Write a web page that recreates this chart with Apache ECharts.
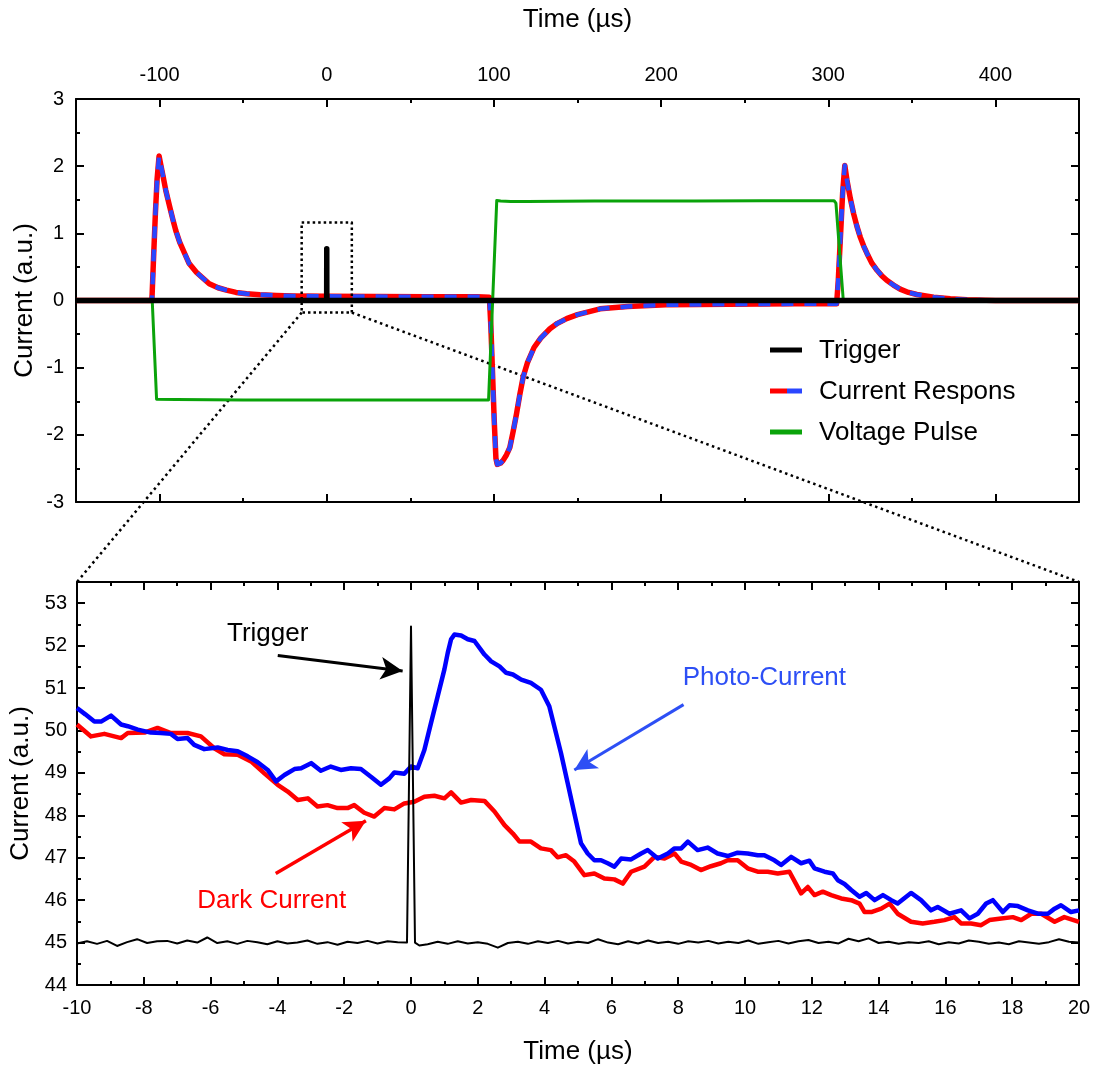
<!DOCTYPE html>
<html>
<head>
<meta charset="utf-8">
<script src="https://cdn.jsdelivr.net/npm/echarts@6/dist/echarts.min.js"></script>
<style>
  html, body { margin: 0; padding: 0; background: #fff; }
  #chart { width: 1094px; height: 1066px; }
</style>
</head>
<body>
<div id="chart"></div>
<script>
// ---------- overview panel: time in µs, current in a.u. ----------
const triggerPulse = [[-150, 0], [-0.05, 0], [0, 0.77], [0.05, 0], [450, 0]];

const currentResponse = [
  [-150, 0], [-104.6, 0], [-103.5, 0.7], [-102.5, 1.3], [-101.5, 1.8], [-100.3, 2.15],
  [-99.3, 2.02], [-98, 1.86], [-96.3, 1.64], [-94, 1.4], [-92, 1.2], [-90.3, 1.04],
  [-88, 0.87], [-85, 0.7], [-82.3, 0.55], [-78, 0.42], [-74, 0.33], [-70.3, 0.25],
  [-65, 0.19], [-60, 0.155], [-54.3, 0.12], [-48, 0.1], [-40, 0.085], [-30, 0.075],
  [-20, 0.068], [0, 0.062], [30, 0.058], [60, 0.055], [90, 0.055], [97.3, 0.05],
  [98.2, -0.4], [99.2, -1.1], [100.2, -1.8], [101.2, -2.35], [102, -2.44], [104, -2.42],
  [105.5, -2.38], [107.5, -2.3], [109.5, -2.19], [111.5, -1.95], [113.5, -1.69],
  [115.5, -1.4], [117.5, -1.14], [120, -0.93], [124, -0.7], [128, -0.56], [133.5, -0.42],
  [138, -0.34], [143.5, -0.27], [150, -0.21], [163.5, -0.124], [180, -0.09], [203, -0.065],
  [240, -0.055], [280, -0.05], [305, -0.05], [306, 0.3], [307.3, 0.95], [308.6, 1.6],
  [309.9, 2.01], [311.2, 1.79], [313.2, 1.52], [315.2, 1.29], [317.2, 1.1], [319.2, 0.94],
  [321.2, 0.81], [323.2, 0.7], [326, 0.56], [329.2, 0.45], [332, 0.37], [335, 0.3],
  [339, 0.23], [343, 0.17], [348, 0.12], [353, 0.09], [363, 0.05], [373, 0.025],
  [383, 0.01], [400, 0], [450, 0]
];

const voltagePulse = [
  [-150, 0], [-104.4, 0], [-101.8, -1.47], [-90, -1.475], [-50, -1.48], [0, -1.48],
  [50, -1.48], [96.8, -1.48], [101.7, 1.49], [104, 1.48], [110, 1.475], [120, 1.475],
  [160, 1.48], [220, 1.48], [260, 1.485], [303.5, 1.485], [304.6, 1.45], [309, 0], [450, 0]
];

// dotted window around the trigger that the lower panel enlarges
const windowBox = [[-15, 1.16], [15, 1.16], [15, -0.18], [-15, -0.18], [-15, 1.16]];

// ---------- detail panel: -10 … 20 µs ----------
const photoCurrent = [
  [-10, 50.53], [-9.75, 50.38], [-9.48, 50.21], [-9.28, 50.21], [-8.98, 50.35], [-8.68, 50.14],
  [-8.48, 50.1], [-8.18, 50.02], [-7.79, 49.95], [-7.49, 49.94], [-7.19, 49.92], [-6.99, 49.8],
  [-6.69, 49.82], [-6.49, 49.66], [-6.19, 49.56], [-5.79, 49.6], [-5.49, 49.54], [-5.19, 49.51],
  [-4.89, 49.39], [-4.59, 49.25], [-4.29, 49.07], [-4.04, 48.8], [-3.79, 48.95], [-3.49, 49.09],
  [-3.29, 49.11], [-2.99, 49.23], [-2.7, 49.05], [-2.4, 49.15], [-2.1, 49.07], [-1.8, 49.11],
  [-1.5, 49.09], [-1.2, 48.91], [-0.9, 48.72], [-0.65, 48.87], [-0.5, 49.01], [-0.2, 48.98],
  [0, 49.15], [0.2, 49.11], [0.4, 49.54], [0.6, 50.18], [0.8, 50.81], [1, 51.44], [1.1, 51.83],
  [1.2, 52.15], [1.3, 52.26], [1.5, 52.24], [1.7, 52.15], [1.9, 52.11], [2.2, 51.79],
  [2.4, 51.63], [2.65, 51.51], [2.85, 51.36], [3.05, 51.32], [3.3, 51.2], [3.59, 51.12],
  [3.89, 50.96], [4.14, 50.57], [4.29, 50.1], [4.49, 49.47], [4.69, 48.76], [4.89, 48.05],
  [5.09, 47.34], [5.29, 47.1], [5.49, 46.94], [5.69, 46.94], [5.89, 46.87], [6.09, 46.79],
  [6.29, 46.98], [6.59, 46.96], [6.89, 47.1], [7.09, 47.18], [7.39, 46.98], [7.69, 47.1],
  [7.89, 47.22], [8.09, 47.22], [8.29, 47.38], [8.58, 47.18], [8.88, 47.24], [9.18, 47.1],
  [9.48, 47.04], [9.78, 47.12], [10.08, 47.1], [10.38, 47.06], [10.58, 47.06], [10.88, 46.94],
  [11.08, 46.83], [11.38, 47.02], [11.68, 46.87], [11.93, 46.93], [12.08, 46.75], [12.38, 46.67],
  [12.63, 46.63], [12.78, 46.47], [12.98, 46.38], [13.18, 46.24], [13.43, 46.08], [13.63, 46.17],
  [13.88, 46], [14.13, 46.12], [14.38, 46], [14.57, 45.92], [14.97, 46.17], [15.27, 46],
  [15.57, 45.76], [15.77, 45.84], [16.12, 45.68], [16.47, 45.76], [16.72, 45.57], [16.97, 45.68],
  [17.22, 45.92], [17.42, 46], [17.72, 45.72], [17.92, 45.88], [18.17, 45.86], [18.47, 45.76],
  [18.77, 45.68], [19.07, 45.68], [19.27, 45.8], [19.46, 45.88], [19.76, 45.72], [20, 45.76]
];

const darkCurrent = [
  [-10, 50.14], [-9.58, 49.86], [-9.18, 49.92], [-8.68, 49.82], [-8.48, 49.94], [-7.98, 49.95],
  [-7.59, 50.06], [-7.19, 49.94], [-6.69, 49.94], [-6.29, 49.86], [-5.89, 49.58], [-5.59, 49.44],
  [-5.19, 49.43], [-4.79, 49.27], [-4.39, 48.99], [-3.99, 48.72], [-3.69, 48.56], [-3.39, 48.36],
  [-3.09, 48.4], [-2.8, 48.21], [-2.5, 48.24], [-2.2, 48.17], [-1.9, 48.17], [-1.7, 48.24],
  [-1.4, 48.06], [-1.1, 47.97], [-0.8, 48.17], [-0.5, 48.14], [-0.2, 48.28], [0.1, 48.32],
  [0.4, 48.44], [0.7, 48.46], [1, 48.4], [1.2, 48.54], [1.5, 48.3], [1.8, 48.36], [2.2, 48.34],
  [2.5, 48.09], [2.8, 47.77], [3.05, 47.57], [3.25, 47.38], [3.59, 47.38], [3.89, 47.22],
  [4.19, 47.18], [4.39, 47.01], [4.64, 47.06], [4.89, 46.91], [5.19, 46.59], [5.49, 46.63],
  [5.79, 46.51], [6.09, 46.49], [6.34, 46.39], [6.59, 46.67], [6.99, 46.79], [7.29, 47.02],
  [7.59, 46.98], [7.89, 47.1], [8.09, 46.91], [8.39, 46.83], [8.68, 46.71], [8.98, 46.8],
  [9.28, 46.87], [9.48, 46.94], [9.78, 46.94], [10.08, 46.75], [10.38, 46.67], [10.68, 46.67],
  [10.98, 46.63], [11.33, 46.67], [11.68, 46.16], [11.88, 46.31], [12.08, 46.12], [12.33, 46.2],
  [12.58, 46.12], [12.88, 46.04], [13.18, 46], [13.43, 45.92], [13.58, 45.72], [13.78, 45.72],
  [14.08, 45.8], [14.33, 45.92], [14.57, 45.68], [14.97, 45.49], [15.32, 45.45], [15.67, 45.49],
  [15.97, 45.53], [16.27, 45.6], [16.47, 45.45], [16.77, 45.45], [17.07, 45.41], [17.32, 45.53],
  [17.67, 45.57], [18.02, 45.6], [18.27, 45.53], [18.57, 45.68], [18.87, 45.68], [19.27, 45.49],
  [19.56, 45.6], [20, 45.49]
];

const triggerDetail = [
  [-10, 44.98], [-9.7, 45.03], [-9.4, 44.97], [-9.1, 45.04], [-8.8, 44.92], [-8.5, 45.01],
  [-8.2, 45.08], [-7.9, 44.99], [-7.6, 45.03], [-7.3, 45.04], [-7.0, 44.98], [-6.7, 45.05],
  [-6.4, 45.0], [-6.1, 45.12], [-5.8, 44.99], [-5.5, 45.03], [-5.2, 44.97], [-4.9, 45.04],
  [-4.6, 45.01], [-4.3, 44.96], [-4.0, 45.03], [-3.7, 44.98], [-3.4, 45.0], [-3.1, 45.05],
  [-2.8, 44.97], [-2.5, 45.01], [-2.2, 44.95], [-1.9, 45.02], [-1.6, 44.99], [-1.3, 45.04],
  [-1.0, 44.98], [-0.7, 45.03], [-0.4, 45.01], [-0.12, 45.0], [0, 52.45], [0.12, 45.0],
  [0.25, 44.93], [0.5, 44.96], [0.8, 45.02], [1.1, 44.97], [1.4, 45.03], [1.7, 44.98],
  [2.0, 45.01], [2.3, 44.97], [2.6, 44.88], [2.9, 44.99], [3.2, 45.02], [3.5, 44.97],
  [3.8, 45.03], [4.1, 44.99], [4.4, 45.04], [4.7, 44.98], [5.0, 45.02], [5.3, 44.99],
  [5.6, 45.08], [5.9, 45.0], [6.2, 44.96], [6.5, 45.03], [6.8, 44.98], [7.1, 45.05],
  [7.4, 44.99], [7.7, 45.02], [8.0, 44.97], [8.3, 45.03], [8.6, 45.0], [8.9, 45.04],
  [9.2, 44.98], [9.5, 45.02], [9.8, 44.99], [10.1, 45.05], [10.4, 44.97], [10.7, 45.01],
  [11.0, 45.04], [11.3, 44.98], [11.6, 45.03], [11.9, 45.06], [12.2, 44.99], [12.5, 45.02],
  [12.8, 44.98], [13.1, 45.09], [13.4, 45.03], [13.7, 45.1], [14.0, 44.99], [14.3, 45.02],
  [14.6, 44.97], [14.9, 45.01], [15.2, 44.99], [15.5, 45.03], [15.8, 44.96], [16.1, 45.01],
  [16.4, 44.98], [16.7, 45.05], [17.0, 45.02], [17.3, 44.97], [17.6, 45.0], [17.9, 44.96],
  [18.2, 45.03], [18.5, 45.0], [18.8, 44.97], [19.1, 45.01], [19.4, 45.08], [19.7, 45.02],
  [20.0, 45.0]
];

// legend entries of the overview panel
const legendNames = ['Trigger', 'Current Respons', 'Voltage Pulse'];

// ---------- styling ----------
const FONT = '"Liberation Sans", Arial, Helvetica, sans-serif';
const BLACK = '#000000';
const RED = '#ff0000';
const BLUE = '#0000ff';
const DASH_BLUE = '#2a46ff';
const GREEN = '#0aa30a';
const NOTE_BLUE = '#2d4ff5';
const AX = { color: BLACK, width: 2 };

function axis(base, labelled) {
  const a = Object.assign({
    type: 'value',
    axisLine: { show: true, onZero: false, lineStyle: AX },
    axisTick: { show: true, inside: true, length: 8, lineStyle: AX },
    minorTick: { show: true, splitNumber: 2, length: 4, lineStyle: AX },
    splitLine: { show: false },
    minorSplitLine: { show: false },
    axisLabel: { show: labelled, color: BLACK, fontSize: 20, fontFamily: FONT },
    nameTextStyle: { color: BLACK, fontSize: 26, fontFamily: FONT },
    nameLocation: 'middle',
    nameMoveOverlap: false
  }, base);
  if (base.labelExtra) Object.assign(a.axisLabel, base.labelExtra);
  delete a.labelExtra;
  return a;
}

const hundreds = v => (Math.abs(v % 100) < 1e-9 ? String(v) : '');
const integers = v => (Math.abs(v - Math.round(v)) < 1e-9 ? String(v) : '');

const line = (name, data, xi, yi, style, extra) => Object.assign({
  name, type: 'line', data, xAxisIndex: xi, yAxisIndex: yi,
  showSymbol: false, symbol: 'none', animation: false, silent: true,
  lineStyle: Object.assign({ join: 'round' }, style)
}, extra || {});

const arrow = (color, width, from, to) => ({
  silent: true, animation: false, symbol: ['none', 'arrow'], symbolSize: [17, 22],
  label: { show: false }, emphasis: { disabled: true },
  lineStyle: { color, width, type: 'solid' },
  data: [[{ coord: from }, { coord: to }]]
});

const option = {
  backgroundColor: '#ffffff',
  animation: false,
  textStyle: { fontFamily: FONT },
  grid: [
    { left: 76, top: 99, width: 1003, height: 403 },
    { left: 76, top: 582, width: 1003, height: 403 }
  ],
  xAxis: [
    axis({ gridIndex: 0, position: 'top', min: -150, max: 450, splitNumber: 6,
      name: 'Time (µs)', nameGap: 66,
      labelExtra: { margin: 14, formatter: hundreds } }, true),
    axis({ gridIndex: 0, position: 'bottom', min: -150, max: 450, splitNumber: 6 }, false),
    axis({ gridIndex: 1, position: 'bottom', min: -10, max: 20, interval: 2,
      name: 'Time (µs)', nameGap: 54,
      labelExtra: { margin: 13 } }, true),
    axis({ gridIndex: 1, position: 'top', min: -10, max: 20, interval: 2 }, false)
  ],
  yAxis: [
    axis({ gridIndex: 0, position: 'left', min: -3, max: 3, interval: 1,
      name: 'Current (a.u.)', nameGap: 38,
      labelExtra: { margin: 12 } }, true),
    axis({ gridIndex: 0, position: 'right', min: -3, max: 3, interval: 1 }, false),
    axis({ gridIndex: 1, position: 'left', min: 44, max: 53.5, interval: 1,
      name: 'Current (a.u.)', nameGap: 43,
      labelExtra: { margin: 10, formatter: integers, showMaxLabel: false } }, true),
    axis({ gridIndex: 1, position: 'right', min: 44, max: 53.5, interval: 1 }, false)
  ],
  series: [
    // overview
    line(legendNames[1], currentResponse, 0, 0, { color: RED, width: 5.5 }),
    line(legendNames[1], currentResponse, 0, 0, { color: DASH_BLUE, width: 4.5, type: [12, 11] }),
    line(legendNames[2], voltagePulse, 0, 0, { color: GREEN, width: 3 }),
    line(legendNames[0], triggerPulse, 0, 0, { color: BLACK, width: 5.5 }),
    line('window', windowBox, 0, 0, { color: BLACK, width: 2.5, type: [2.5, 3] }),
    // detail
    line('Dark Current', darkCurrent, 2, 2, { color: RED, width: 4.5 },
      { markLine: arrow(RED, 3.5, [-4.05, 46.63], [-1.35, 47.87]) }),
    line('Photo-Current', photoCurrent, 2, 2, { color: BLUE, width: 4.5 },
      { markLine: arrow(NOTE_BLUE, 3, [8.16, 50.61], [4.89, 49.07]) }),
    line('Trigger', triggerDetail, 2, 2, { color: BLACK, width: 2 },
      { markLine: arrow(BLACK, 3, [-3.99, 51.77], [-0.25, 51.40]) })
  ]
};

const chart = echarts.init(document.getElementById('chart'), null, { renderer: 'canvas' });
chart.setOption(option);

// overlays: connector lines, legend, annotations
const toOverview = pt => chart.convertToPixel({ xAxisIndex: 0, yAxisIndex: 0 }, pt);
const toDetail = pt => chart.convertToPixel({ xAxisIndex: 2, yAxisIndex: 2 }, pt);

const boxBL = toOverview(windowBox[3]);
const boxBR = toOverview(windowBox[2]);
const detTL = toDetail([-10, 53.5]);
const detTR = toDetail([20, 53.5]);
const dotted = { stroke: BLACK, lineWidth: 2.5, lineDash: [2.5, 3.5] };

const graphics = [
  { type: 'line', silent: true, shape: { x1: boxBL[0], y1: boxBL[1], x2: detTL[0], y2: detTL[1] }, style: dotted },
  { type: 'line', silent: true, shape: { x1: boxBR[0], y1: boxBR[1], x2: detTR[0], y2: detTR[1] }, style: dotted }
];

// legend of the overview panel
const legendX = 770, legendY = [350, 391, 432];
graphics.push(
  { type: 'line', silent: true, shape: { x1: legendX, y1: legendY[0], x2: legendX + 32, y2: legendY[0] }, style: { stroke: BLACK, lineWidth: 5 } },
  { type: 'line', silent: true, shape: { x1: legendX, y1: legendY[1], x2: legendX + 17, y2: legendY[1] }, style: { stroke: RED, lineWidth: 5 } },
  { type: 'line', silent: true, shape: { x1: legendX + 17, y1: legendY[1], x2: legendX + 32, y2: legendY[1] }, style: { stroke: DASH_BLUE, lineWidth: 5 } },
  { type: 'line', silent: true, shape: { x1: legendX, y1: legendY[2], x2: legendX + 32, y2: legendY[2] }, style: { stroke: GREEN, lineWidth: 5 } }
);
legendNames.forEach((n, i) => graphics.push({
  type: 'text', silent: true, x: 819, y: legendY[i] + 1,
  style: { text: n, fill: BLACK, fontSize: 26, fontFamily: FONT, align: 'left', verticalAlign: 'middle' }
}));

// annotations of the detail panel
const notes = [
  { text: 'Trigger', at: [-4.29, 52.29], color: BLACK },
  { text: 'Dark Current', at: [-4.17, 45.98], color: RED },
  { text: 'Photo-Current', at: [10.58, 51.25], color: NOTE_BLUE }
];
notes.forEach(n => {
  const p = toDetail(n.at);
  graphics.push({
    type: 'text', silent: true, x: p[0], y: p[1],
    style: { text: n.text, fill: n.color, fontSize: 26, fontFamily: FONT, align: 'center', verticalAlign: 'middle' }
  });
});

chart.setOption({ graphic: graphics });
</script>
</body>
</html>
